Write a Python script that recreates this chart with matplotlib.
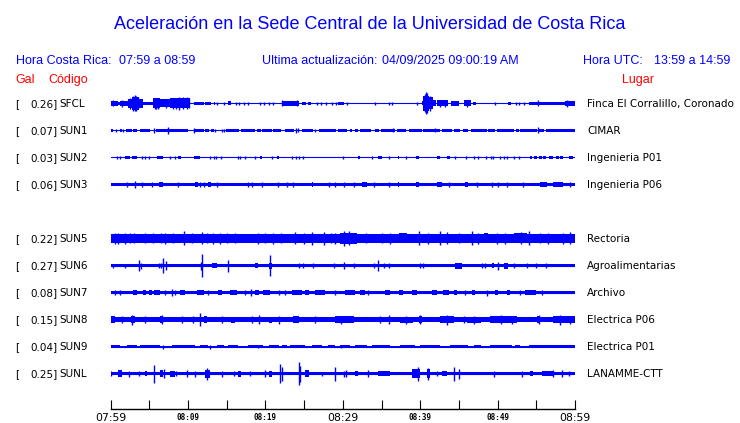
import matplotlib
matplotlib.use("Agg")
import matplotlib.pyplot as plt

# ---------------------------------------------------------------- station info
codes = ["SFCL", "SUN1", "SUN2", "SUN3", "SUN5", "SUN6", "SUN7", "SUN8", "SUN9", "SUNL"]
gal_max = [0.26, 0.07, 0.03, 0.06, 0.22, 0.27, 0.08, 0.15, 0.04, 0.25]
places = ["Finca El Corralillo, Coronado", "CIMAR", "Ingenieria P01", "Ingenieria P06",
          "Rectoria", "Agroalimentarias", "Archivo", "Electrica P06", "Electrica P01",
          "LANAMME-CTT"]
rows = [0, 1, 2, 3, 5, 6, 7, 8, 9, 10]          # row 4 (SUN4) has no trace

# background band half-width of each trace (display px)
base = [0.6, 0.6, 0.6, 1.7, 4.2, 1.7, 1.5, 2.4, 0.7, 1.7]

# envelope: segments (start min, end min, half-amp px)
# and single spikes (min, half-amp px); minutes counted from 07:59
seg_sfcl = [(0.0, 0.9, 2.5), (0.9, 1.2, 1.5), (1.2, 2.3, 2.7), (2.3, 2.7, 4.5), (2.7, 3.6, 6.7),
            (3.6, 4.2, 4.5), (4.2, 5.5, 1.7), (5.5, 6.4, 5.0), (6.4, 7.7, 4.0), (7.7, 10.3, 5.0),
            (10.7, 12.0, 1.3), (12.2, 13.0, 1.5), (13.3, 13.5, 1.3), (15.2, 15.5, 2.0),
            (22.1, 24.3, 2.5), (24.7, 25.3, 1.5), (25.5, 25.9, 1.5), (29.4, 30.1, 1.5),
            (40.2, 40.4, 2.0), (40.4, 41.1, 7.5), (41.1, 41.7, 6.0), (41.7, 42.1, 3.0),
            (42.15, 43.65, 3.0), (44.0, 45.0, 2.5), (45.6, 46.55, 3.0), (46.8, 47.2, 1.5),
            (51.4, 51.7, 1.5), (54.0, 58.7, 1.7), (58.7, 60.0, 2.7)]
spk_sfcl = [(0.3, 3.0), (1.5, 3.2), (2.5, 5.5), (2.9, 7.5), (3.1, 8.0), (3.3, 7.5), (3.5, 6.0),
            (5.7, 5.8), (5.8, 5.5), (6.1, 5.5), (7.2, 4.8), (8.1, 5.8), (8.5, 5.5), (8.8, 6.2),
            (9.3, 6.0), (9.9, 6.0), (10.1, 5.0), (13.8, 1.3),
            (14.6, 1.3), (16.2, 1.3), (16.6, 1.3), (17.2, 1.3), (17.7, 1.3), (19.3, 1.3),
            (19.8, 1.3), (20.5, 1.3), (21.0, 1.3), (22.1, 3.0), (24.1, 3.0), (26.6, 1.3),
            (27.2, 1.3), (27.8, 1.3), (28.6, 1.3), (29.1, 1.3), (30.5, 1.5), (34.2, 1.3),
            (35.9, 1.3), (36.4, 1.3), (39.6, 1.3), (40.6, 9.0), (40.75, 11.0), (40.9, 10.0),
            (41.3, 7.5), (42.6, 3.5), (43.2, 3.5), (46.1, 3.5), (49.7, 1.3), (52.4, 1.3),
            (52.8, 1.3), (53.35, 1.3), (55.2, 3.0), (59.0, 3.2)]

seg_sun1 = [(0.05, 0.25, 1.3), (1.2, 1.4, 1.3), (2.0, 2.7, 1.3), (2.9, 3.4, 1.3), (3.8, 5.1, 1.3),
            (5.8, 10.0, 1.3), (10.8, 12.1, 1.3), (12.2, 12.7, 1.3), (13.0, 13.3, 1.3),
            (14.9, 16.6, 1.3), (16.9, 18.7, 1.3), (18.9, 19.4, 1.3), (19.6, 20.8, 1.3),
            (21.0, 22.0, 1.3), (22.5, 23.7, 1.3), (24.7, 26.1, 1.3), (26.9, 29.1, 1.3),
            (29.4, 30.5, 1.3), (30.9, 31.2, 1.3), (31.6, 32.0, 1.3), (32.2, 33.6, 1.3),
            (34.2, 34.7, 1.3), (34.9, 36.8, 1.3), (37.0, 38.1, 1.3), (38.5, 40.2, 1.3),
            (40.3, 42.6, 1.3), (42.8, 44.1, 1.3), (44.3, 45.2, 1.3), (45.5, 46.2, 1.3),
            (46.5, 48.6, 1.3), (48.8, 49.7, 1.3), (49.9, 52.1, 1.3), (52.4, 52.7, 1.3),
            (52.9, 55.1, 1.3), (55.3, 56.0, 1.3), (56.2, 60.0, 1.5)]
spk_sun1 = [(0.7, 1.3), (1.6, 1.3), (5.6, 2.8), (7.45, 3.5), (10.7, 2.3), (13.5, 1.3), (14.4, 1.3),
            (14.7, 1.3), (23.9, 2.3), (24.2, 2.0), (26.4, 1.3), (36.5, 2.0), (41.9, 2.0), (55.2, 3.0)]

seg_sun2 = [(1.9, 2.5, 1.5), (2.7, 3.4, 1.5), (6.0, 6.7, 1.5), (8.75, 9.1, 1.5), (10.7, 11.6, 1.5),
            (19.3, 19.6, 1.5), (21.5, 21.8, 1.5), (32.0, 32.2, 1.5), (34.6, 35.0, 1.5),
            (37.1, 37.3, 1.5), (39.5, 39.8, 1.5), (42.2, 42.5, 1.5), (43.5, 43.9, 1.5),
            (54.2, 54.5, 1.3), (54.7, 55.1, 1.3), (55.4, 55.7, 1.3), (55.9, 56.2, 1.3),
            (56.6, 57.2, 1.3), (57.6, 57.9, 1.3), (58.1, 58.5, 1.3), (59.2, 59.7, 1.3)]
spk_sun2 = [(0.8, 1.5), (1.2, 1.5), (4.0, 1.5), (4.4, 1.5), (4.9, 1.5), (7.7, 1.5), (8.3, 1.5),
            (12.8, 1.5), (13.3, 1.5), (13.6, 1.5), (14.3, 1.5), (16.5, 1.5), (16.7, 1.5),
            (17.3, 1.5), (18.7, 1.5), (20.8, 1.5), (23.4, 1.5), (23.9, 1.5), (24.3, 1.5),
            (24.9, 1.5), (30.0, 1.5), (33.75, 1.5), (36.0, 1.5), (38.2, 1.5), (44.5, 1.5),
            (45.95, 1.5), (46.9, 1.5), (47.5, 1.5), (48.5, 1.5), (49.1, 1.5), (49.4, 1.5),
            (50.3, 1.5), (50.8, 1.5), (51.2, 1.5), (52.1, 1.5), (52.7, 1.5)]

seg_sun3 = [(6.2, 6.8, 2.5), (10.9, 11.3, 2.3), (12.6, 13.0, 2.3), (26.0, 26.2, 2.5),
            (32.5, 33.1, 2.3), (37.1, 37.3, 2.3), (39.5, 39.8, 2.3), (42.2, 42.8, 2.3),
            (45.8, 46.2, 2.3), (55.5, 56.4, 2.2), (57.2, 58.5, 2.2)]
spk_sun3 = [(2.1, 2.3), (3.1, 3.3), (4.0, 2.5), (5.3, 2.5), (8.75, 2.5), (11.6, 2.5), (12.1, 2.7),
            (13.8, 2.5), (17.7, 2.5), (18.2, 2.7), (19.5, 2.5), (21.6, 2.5), (22.8, 2.5),
            (23.5, 2.5), (28.2, 2.5), (29.0, 2.5), (30.1, 2.5), (31.5, 2.5), (34.0, 2.5),
            (36.0, 2.5), (43.7, 2.5), (47.3, 2.5), (49.3, 2.5), (50.1, 2.5), (51.2, 2.5),
            (53.3, 2.5), (59.4, 2.5)]

seg_sun5 = [(0.0, 1.5, 4.8), (17.4, 18.2, 4.8), (23.5, 24.5, 4.7), (26.0, 28.0, 4.8),
            (29.65, 31.8, 5.3), (37.2, 38.3, 5.0), (48.2, 48.8, 5.0), (52.1, 53.8, 5.0),
            (57.2, 60.0, 4.8)]
spk_sun5 = [(0.5, 5.5), (1.0, 5.2), (1.85, 5.5), (2.5, 5.0), (3.0, 5.0), (4.4, 5.0), (5.5, 5.0),
            (6.5, 5.0), (7.0, 5.2), (8.0, 5.0), (9.5, 7.0), (10.5, 5.0), (11.8, 6.0), (12.5, 5.0),
            (13.2, 5.2), (14.1, 5.5), (15.0, 5.0), (16.0, 5.0), (19.0, 5.2), (20.0, 5.0),
            (21.0, 5.5), (22.0, 5.0), (23.8, 6.0), (25.0, 5.2), (26.0, 6.5), (27.6, 6.5),
            (28.5, 5.0), (29.0, 5.5), (30.1, 7.5), (30.8, 7.0), (33.0, 5.0), (35.0, 5.0),
            (36.1, 5.5), (39.8, 7.0), (41.0, 5.2), (42.5, 7.0), (43.5, 6.0), (45.0, 5.0),
            (46.7, 7.0), (47.5, 5.2), (49.9, 5.5), (51.0, 5.2), (53.0, 6.0), (54.0, 7.0),
            (55.5, 5.0), (56.5, 5.2), (58.5, 5.5), (59.4, 6.0)]

seg_sun6 = [(13.1, 13.8, 2.5), (18.7, 19.0, 2.5), (20.4, 20.8, 3.0), (44.5, 45.4, 3.0),
            (49.3, 49.5, 2.5), (50.8, 51.4, 3.0)]
spk_sun6 = [(0.35, 2.0), (1.8, 2.0), (3.7, 5.7), (3.9, 3.0), (6.2, 2.5), (6.5, 2.5), (6.7, 7.2),
            (7.2, 4.5), (11.7, 4.0), (11.85, 11.8), (15.2, 6.0), (20.6, 10.5), (24.3, 2.5),
            (24.8, 2.5), (26.2, 2.5), (28.8, 2.5), (30.1, 3.5), (31.4, 2.5), (34.0, 2.5),
            (34.6, 5.5), (35.3, 2.5), (35.9, 2.5), (40.0, 2.5), (40.3, 2.5), (48.0, 2.5),
            (48.4, 2.5), (50.0, 4.0), (52.1, 2.5), (53.8, 2.5), (55.0, 2.5), (56.3, 2.5)]

seg_sun7 = [(2.9, 3.4, 2.3), (4.2, 4.6, 2.3), (4.9, 5.4, 2.3), (5.6, 6.4, 2.3), (9.0, 9.6, 2.3),
            (11.1, 12.0, 2.7), (13.9, 14.4, 2.3), (15.4, 16.3, 2.3), (18.7, 19.1, 2.3),
            (19.7, 20.6, 2.3), (23.4, 24.7, 2.3), (25.1, 25.6, 2.3), (26.4, 27.7, 2.3),
            (30.3, 31.6, 2.3), (32.2, 32.9, 2.3), (35.5, 36.1, 2.3), (37.2, 37.8, 2.3),
            (38.9, 39.6, 2.3), (41.5, 42.2, 2.3), (43.0, 43.7, 2.3), (44.3, 44.7, 2.3),
            (46.7, 47.1, 2.3), (49.7, 50.1, 2.3), (51.2, 51.6, 2.3), (53.6, 54.9, 2.3)]
spk_sun7 = [(0.6, 2.5), (1.2, 2.5), (7.0, 2.5), (7.9, 3.2), (8.3, 2.5), (12.6, 2.5), (17.4, 2.5),
            (18.1, 3.2), (21.7, 2.5), (22.5, 2.5), (29.0, 2.5), (33.3, 2.5), (45.8, 2.5),
            (48.6, 3.0), (52.9, 2.5), (55.7, 2.5)]

seg_sun8 = [(0.0, 0.6, 3.2), (2.6, 3.1, 3.6), (6.4, 6.8, 3.6), (12.0, 12.4, 3.6), (15.6, 16.1, 3.0),
            (20.4, 20.8, 3.0), (23.6, 24.3, 3.2), (29.0, 31.4, 3.1), (37.4, 39.1, 3.0),
            (39.8, 40.2, 3.8), (42.6, 44.3, 3.5), (46.0, 47.8, 3.0), (49.0, 52.5, 3.2),
            (55.1, 55.5, 3.6), (57.2, 60.0, 3.1)]
spk_sun8 = [(1.5, 3.5), (2.8, 5.0), (4.4, 3.5), (6.6, 4.5), (9.2, 3.5), (10.6, 3.5), (11.6, 6.8),
            (14.4, 3.3), (18.2, 3.3), (19.2, 4.5), (21.7, 4.0), (26.4, 3.5), (29.8, 4.0),
            (34.8, 3.3), (36.0, 4.5), (38.2, 4.0), (40.0, 4.5), (43.4, 5.0), (45.6, 3.3),
            (47.0, 4.0), (50.5, 4.3), (51.8, 4.0), (55.3, 4.5), (58.1, 5.0), (59.3, 4.0)]

seg_sun9 = [(0.0, 1.2, 1.2), (2.1, 3.4, 1.2), (3.8, 6.4, 1.2), (7.9, 10.9, 1.2), (11.6, 12.6, 1.2),
            (13.7, 14.6, 1.2), (15.2, 16.5, 1.2), (17.8, 19.7, 1.2), (20.4, 21.7, 1.2),
            (22.1, 22.8, 1.2), (23.2, 25.1, 1.2), (26.0, 27.3, 1.2), (28.1, 29.0, 1.2),
            (29.65, 30.9, 1.2), (31.6, 33.1, 1.2), (33.75, 36.1, 1.2), (37.4, 39.3, 1.2),
            (40.0, 42.6, 1.2), (43.9, 46.2, 1.2), (46.9, 47.8, 1.2), (49.05, 51.85, 1.2),
            (52.3, 52.9, 1.2), (54.0, 60.0, 1.2)]
spk_sun9 = [(6.7, 2.0), (12.8, 2.0), (19.0, 1.6), (29.7, 1.2)]

seg_sunl = [(1.0, 1.4, 3.5), (4.4, 4.7, 2.5), (6.4, 6.8, 3.5), (7.7, 8.3, 3.0), (12.2, 12.8, 4.0),
            (16.5, 16.9, 3.0), (20.4, 20.8, 3.0), (25.1, 25.6, 3.5), (31.6, 32.0, 2.5),
            (34.6, 36.1, 2.5), (38.9, 40.0, 4.5), (40.85, 41.3, 4.5), (42.8, 43.4, 2.5),
            (54.2, 54.6, 2.5), (55.7, 57.2, 2.5)]
spk_sunl = [(0.1, 2.5), (2.4, 3.0), (3.6, 2.5), (5.6, 9.0), (6.9, 4.5), (8.5, 2.5), (9.8, 3.5),
            (10.9, 3.0), (12.5, 6.0), (14.4, 3.0), (15.9, 2.5), (18.0, 2.5), (20.0, 3.5),
            (21.9, 9.3), (22.1, 7.0), (24.35, 11.3), (24.5, 8.0), (27.3, 2.0), (29.0, 7.0),
            (30.1, 3.0), (30.4, 3.5), (33.3, 3.5), (39.65, 7.0), (41.0, 6.0), (42.15, 2.5),
            (44.3, 7.0), (45.0, 5.0), (49.5, 3.0), (53.1, 3.0), (57.15, 3.5), (58.3, 3.5),
            (59.2, 2.5)]

segments = [seg_sfcl, seg_sun1, seg_sun2, seg_sun3, seg_sun5,
            seg_sun6, seg_sun7, seg_sun8, seg_sun9, seg_sunl]
spikes = [spk_sfcl, spk_sun1, spk_sun2, spk_sun3, spk_sun5,
          spk_sun6, spk_sun7, spk_sun8, spk_sun9, spk_sunl]

tick_min = list(range(0, 61, 5))
tick_lab = ["07:59", "", "08:09", "", "08:19", "", "08:29", "", "08:39", "", "08:49", "", "08:59"]

# ---------------------------------------------------------------- layout
W, H = 740, 423
BLUE = "#0000ff"
RED = "#ff0000"
ROW = 27.0                      # px between traces
TOP_Y = 103.5                   # px centre of first trace


def fx(px):
    return px / W


def fy(py):
    return 1 - py / H


fig = plt.figure(figsize=(W / 100, H / 100), dpi=100)
fig.patch.set_facecolor("white")

# traces axes: x in minutes, y in display pixels (first trace at 0)
ax_top, ax_bot, ax_l, ax_r = 85.0, 409.0, 110.7, 575.0
ax = fig.add_axes([fx(ax_l), fy(ax_bot), (ax_r - ax_l) / W, (ax_bot - ax_top) / H])
ax.set_xlim(0, 60)
ax.set_ylim(-(ax_bot - TOP_Y), TOP_Y - ax_top)
ax.patch.set_alpha(0)

for i in range(len(codes)):
    y0 = -ROW * rows[i]
    b = base[i]
    ax.hlines(y0, 0, 60, color=BLUE, lw=0.8)
    ax.bar(0, 2 * b, width=60, bottom=y0 - b, align="edge", color=BLUE, lw=0)
    s = segments[i]
    ax.bar([t[0] for t in s], [2 * t[2] for t in s], width=[t[1] - t[0] for t in s],
           bottom=[y0 - t[2] for t in s], align="edge", color=BLUE, lw=0)
    p = spikes[i]
    ax.vlines([t[0] for t in p], [y0 - t[1] for t in p], [y0 + t[1] for t in p],
              color=BLUE, lw=1.0)

for side in ["top", "left", "right"]:
    ax.spines[side].set_visible(False)
ax.spines["bottom"].set_linewidth(1.0)
ax.set_yticks([])
ax.set_xticks(tick_min)
ax.set_xticklabels(tick_lab)
ax.tick_params(axis="x", direction="in", length=6.5, width=0.8, pad=3)
for lab in ax.get_xticklabels():
    if lab.get_text() in ("07:59", "08:29", "08:59"):
        lab.set_fontfamily("DejaVu Sans")
        lab.set_fontsize(7.8)
    else:
        lab.set_fontfamily("DejaVu Sans Mono")
        lab.set_fontsize(5.5)
        lab.set_fontweight("bold")

# station labels
for i in range(len(codes)):
    yb = TOP_Y + ROW * rows[i] + 3.8
    kw = dict(fontsize=7.5, family="DejaVu Sans", color="black", va="baseline")
    fig.text(fx(15), fy(yb), "[", **kw)
    fig.text(fx(57.5), fy(yb), f"{gal_max[i]:.2f}]", ha="right", **kw)
    fig.text(fx(59), fy(yb), codes[i], **kw)
    fig.text(fx(587), fy(yb), places[i], **kw)

# header
hk = dict(family="Liberation Sans", va="baseline")
fig.text(fx(370), fy(29), "Aceleración en la Sede Central de la Universidad de Costa Rica",
         ha="center", fontsize=13, color=BLUE, **hk)
fig.text(fx(15.7), fy(64), "Hora Costa Rica:", fontsize=9, color=BLUE, **hk)
fig.text(fx(119), fy(64), "07:59 a 08:59", fontsize=9, color=BLUE, **hk)
fig.text(fx(262), fy(64), "Ultima actualización:", fontsize=9, color=BLUE, **hk)
fig.text(fx(382), fy(64), "04/09/2025 09:00:19 AM", fontsize=9, color=BLUE, **hk)
fig.text(fx(583), fy(64), "Hora UTC:", fontsize=9, color=BLUE, **hk)
fig.text(fx(654), fy(64), "13:59 a 14:59", fontsize=9, color=BLUE, **hk)
fig.text(fx(15.7), fy(83), "Gal", fontsize=9, color=RED, **hk)
fig.text(fx(48), fy(83), "Código", fontsize=9, color=RED, **hk)
fig.text(fx(622), fy(83), "Lugar", fontsize=9, color=RED, **hk)

fig.savefig("out.png", dpi=100)
